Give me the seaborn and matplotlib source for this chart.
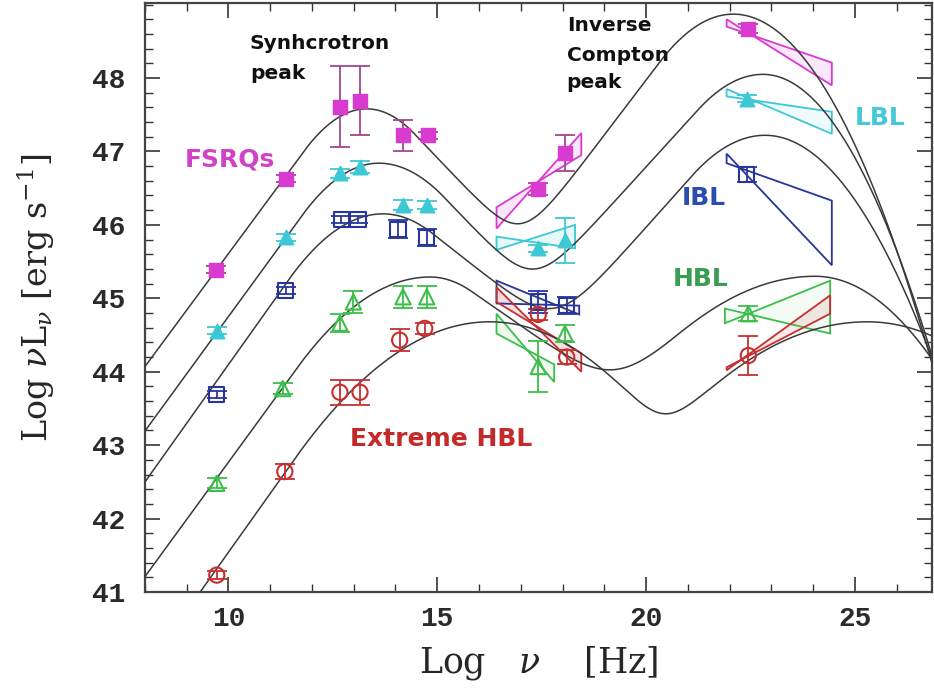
import numpy as np
import pandas as pd
import matplotlib
matplotlib.use("Agg")
import matplotlib.pyplot as plt
import seaborn as sns
from matplotlib.patches import Polygon

# ---- blazar classes ----
classes = ["FSRQs", "LBL", "IBL", "HBL", "Extreme HBL"]
colors = ["#d93bd0", "#3cc8d4", "#27359c", "#3cbf4a", "#c62f2f"]
err_colors = ["#a2468f", "#3cc8d4", "#27359c", "#3cbf4a", "#c62f2f"]
label_colors = ["#d042c6", "#45c9d8", "#2c4cb3", "#3a9e52", "#c42a2a"]
markers = ["s", "^", "s", "^", "o"]
filled = [True, True, False, False, False]

# ---- averaged SED points (log nu, log nuL_nu, error) ----
fsrq_x = [9.70, 11.37, 12.67, 13.15, 14.18, 14.78, 17.42, 18.06, 22.45]
fsrq_y = [45.39, 46.63, 47.61, 47.69, 47.22, 47.22, 46.49, 46.98, 48.67]
fsrq_e = [0.05, 0.05, 0.55, 0.47, 0.21, 0.05, 0.08, 0.25, 0.06]

lbl_x = [9.72, 11.37, 12.67, 13.15, 14.18, 14.75, 17.42, 18.06, 22.41]
lbl_y = [44.56, 45.83, 46.70, 46.79, 46.27, 46.27, 45.68, 45.79, 47.72]
lbl_e = [0.05, 0.05, 0.06, 0.08, 0.07, 0.06, 0.05, 0.31, 0.05]

ibl_x = [9.72, 11.37, 12.70, 13.10, 14.06, 14.75, 17.42, 18.10, 22.41]
ibl_y = [43.69, 45.11, 46.07, 46.07, 45.94, 45.83, 44.95, 44.90, 46.69]
ibl_e = [0.05, 0.05, 0.05, 0.05, 0.12, 0.12, 0.15, 0.12, 0.10]

hbl_x = [9.72, 11.30, 12.67, 12.99, 14.18, 14.75, 17.42, 18.06, 22.45]
hbl_y = [42.48, 43.77, 44.66, 44.95, 45.02, 45.02, 44.07, 44.52, 44.79]
hbl_e = [0.07, 0.08, 0.12, 0.15, 0.15, 0.15, 0.35, 0.12, 0.10]

ehbl_x = [9.72, 11.35, 12.67, 13.15, 14.10, 14.70, 17.42, 18.10, 22.45]
ehbl_y = [41.23, 42.64, 43.72, 43.72, 44.43, 44.59, 44.78, 44.20, 44.22]
ehbl_e = [0.05, 0.10, 0.17, 0.17, 0.15, 0.08, 0.08, 0.10, 0.26]

# ---- model SED shapes: synchrotron and inverse Compton humps ----
sync_peak_x = [13.31, 13.60, 13.70, 14.83, 16.26]
sync_peak_y = [47.58, 46.84, 46.15, 45.29, 44.68]
sync_curv_lo = [0.256, 0.211, 0.176, 0.122, 0.0855]
sync_curv_hi = [0.26, 0.19, 0.19, 0.20, 0.09]
sync_slope_lo = [0.77, 0.78, 0.80, 0.78, 0.80]
sync_slope_hi = [0.60, 0.60, 0.45, 0.40, 9.0]
ic_peak_x = [22.09, 22.80, 22.85, 24.05, 25.30]
ic_peak_y = [48.87, 48.05, 47.22, 45.30, 44.68]
ic_curv_lo = [0.21, 0.20, 0.18, 0.075, 0.065]
ic_curv_hi = [0.21, 0.234, 0.19, 0.144, 0.08]
ic_slope_lo = [0.75, 0.625, 0.64, 0.50, 0.80]

# ---- X-ray and gamma-ray spectral bow-ties: x0, x1, left (lo, hi), right (lo, hi) ----
bow_class = [0, 1, 2, 4, 3, 0, 1, 2, 3, 4]
bow_x0 = [16.42, 16.42, 16.42, 16.42, 16.42, 21.93, 21.93, 21.93, 21.89, 21.93]
bow_x1 = [18.45, 18.30, 18.40, 18.45, 17.80, 24.45, 24.45, 24.45, 24.41, 24.41]
bow_left_lo = [45.95, 45.66, 44.93, 44.95, 44.52, 48.70, 47.75, 46.84, 44.66, 44.02]
bow_left_hi = [46.24, 45.84, 45.24, 45.15, 44.79, 48.80, 47.85, 46.97, 44.86, 44.06]
bow_right_lo = [46.95, 45.68, 44.78, 44.00, 43.86, 47.90, 47.24, 45.45, 44.52, 44.79]
bow_right_hi = [47.25, 46.00, 44.90, 44.25, 44.10, 48.21, 47.54, 46.33, 45.24, 45.04]
bow_fill = [0.12, 0.12, 0.03, 0.15, 0.08, 0.12, 0.08, 0.0, 0.06, 0.10]


def hump(x, xp, yp, c_lo, c_hi, s_lo, s_hi):
    """Log-parabolic peak joined to power laws on either side."""
    y = np.where(x < xp, yp - c_lo * (x - xp) ** 2, yp - c_hi * (x - xp) ** 2)
    xt = xp - s_lo / (2 * c_lo)
    yt = yp - s_lo ** 2 / (4 * c_lo)
    y = np.where(x < xt, yt + s_lo * (x - xt), y)
    xt2 = xp + s_hi / (2 * c_hi)
    yt2 = yp - s_hi ** 2 / (4 * c_hi)
    y = np.where(x > xt2, yt2 - s_hi * (x - xt2), y)
    return y


xgrid = np.linspace(7.5, 27.5, 800)
ln10 = np.log(10.0)
curve_rows = []
for i, name in enumerate(classes):
    s = hump(xgrid, sync_peak_x[i], sync_peak_y[i], sync_curv_lo[i],
             sync_curv_hi[i], sync_slope_lo[i], sync_slope_hi[i])
    c = hump(xgrid, ic_peak_x[i], ic_peak_y[i], ic_curv_lo[i],
             ic_curv_hi[i], ic_slope_lo[i], 99.0)
    tot = np.logaddexp(s * ln10, c * ln10) / ln10
    curve_rows.append(pd.DataFrame({"lognu": xgrid, "logL": tot, "cls": name}))
curves = pd.concat(curve_rows, ignore_index=True)

points = pd.concat([
    pd.DataFrame({"lognu": fsrq_x, "logL": fsrq_y, "err": fsrq_e, "cls": "FSRQs"}),
    pd.DataFrame({"lognu": lbl_x, "logL": lbl_y, "err": lbl_e, "cls": "LBL"}),
    pd.DataFrame({"lognu": ibl_x, "logL": ibl_y, "err": ibl_e, "cls": "IBL"}),
    pd.DataFrame({"lognu": hbl_x, "logL": hbl_y, "err": hbl_e, "cls": "HBL"}),
    pd.DataFrame({"lognu": ehbl_x, "logL": ehbl_y, "err": ehbl_e, "cls": "Extreme HBL"}),
], ignore_index=True)

sns.set_theme(style="ticks")
plt.rcParams["mathtext.fontset"] = "dejavuserif"

fig = plt.figure(figsize=(9.34, 6.92), dpi=100)
ax = fig.add_axes([0.1552, 0.1445, 0.8427, 0.851])

# bow-ties
for k in range(len(bow_class)):
    ci = bow_class[k]
    x0, x1 = bow_x0[k], bow_x1[k]
    verts = [(x0, bow_left_hi[k]), (x1, bow_right_lo[k]),
             (x1, bow_right_hi[k]), (x0, bow_left_lo[k])]
    if bow_fill[k] > 0:
        ax.add_patch(Polygon(verts, closed=True, facecolor=colors[ci],
                             alpha=bow_fill[k], edgecolor="none", zorder=2))
    ax.add_patch(Polygon(verts, closed=True, facecolor="none",
                         edgecolor=colors[ci], lw=1.3, zorder=3))

# model curves
sns.lineplot(data=curves, x="lognu", y="logL", hue="cls", hue_order=classes,
             palette=["#3a3a3a"] * 5, lw=1.1, legend=False, ax=ax, zorder=4,
             sort=False, estimator=None)

# points with error bars
for i, name in enumerate(classes):
    d = points[points["cls"] == name]
    ax.errorbar(d["lognu"], d["logL"], yerr=d["err"], fmt="none",
                ecolor=err_colors[i], elinewidth=1.3, capsize=7, capthick=1.3,
                zorder=5)
    if filled[i]:
        sns.scatterplot(data=d, x="lognu", y="logL", marker=markers[i], s=110,
                        color=colors[i], edgecolor=colors[i], linewidth=1,
                        ax=ax, zorder=6, legend=False)
    else:
        ax.scatter(d["lognu"], d["logL"], marker=markers[i], s=120,
                   facecolors="none", edgecolors=colors[i], linewidths=1.5,
                   zorder=6)

ax.set_xlim(8, 26.85)
ax.set_ylim(41, 49.02)
ax.set_xticks([10, 15, 20, 25])
ax.set_yticks([41, 42, 43, 44, 45, 46, 47, 48])
ax.set_xticks(np.arange(8, 27), minor=True)
ax.set_yticks(np.arange(41, 49.01, 0.2), minor=True)
ax.tick_params(which="both", direction="in", top=True, right=True, color="#333333")
ax.tick_params(which="major", length=11, width=1.2)
ax.tick_params(which="minor", length=6, width=1.0)
ax.tick_params(axis="x", which="major", pad=10)
ax.tick_params(axis="y", which="major", pad=14)
for lab in ax.get_xticklabels() + ax.get_yticklabels():
    lab.set_family("Liberation Mono")
    lab.set_fontsize(20)
    lab.set_fontweight("bold")
    lab.set_color("#2a2a2a")
for sp in ax.spines.values():
    sp.set_linewidth(1.6)
    sp.set_color("#444444")

ax.set_xlabel(r"Log   $\nu$    [Hz]", fontsize=25, family="DejaVu Serif")
ax.set_ylabel(r"Log $\nu$L$_\nu$ [erg s$^{-1}$]", fontsize=24, family="DejaVu Serif")
ax.xaxis.set_label_coords(0.5, -0.088)
ax.yaxis.set_label_coords(-0.112, 0.5)

# class labels
label_x = [8.96, 25.0, 20.86, 20.65, 12.91]
label_y = [46.89, 47.45, 46.37, 45.26, 43.09]
for i, name in enumerate(classes):
    ax.text(label_x[i], label_y[i], name, color=label_colors[i], fontsize=18,
            fontweight="bold", family="DejaVu Sans", va="center", zorder=7)

note_kw = dict(color="#111111", fontsize=14.5, fontweight="bold",
               family="DejaVu Sans", va="center", zorder=7)
ax.text(10.51, 48.47, "Synhcrotron", **note_kw)
ax.text(10.51, 48.06, "peak", **note_kw)
ax.text(18.10, 48.72, "Inverse", **note_kw)
ax.text(18.10, 48.31, "Compton", **note_kw)
ax.text(18.10, 47.94, "peak", **note_kw)

fig.savefig("out.png", dpi=100)
